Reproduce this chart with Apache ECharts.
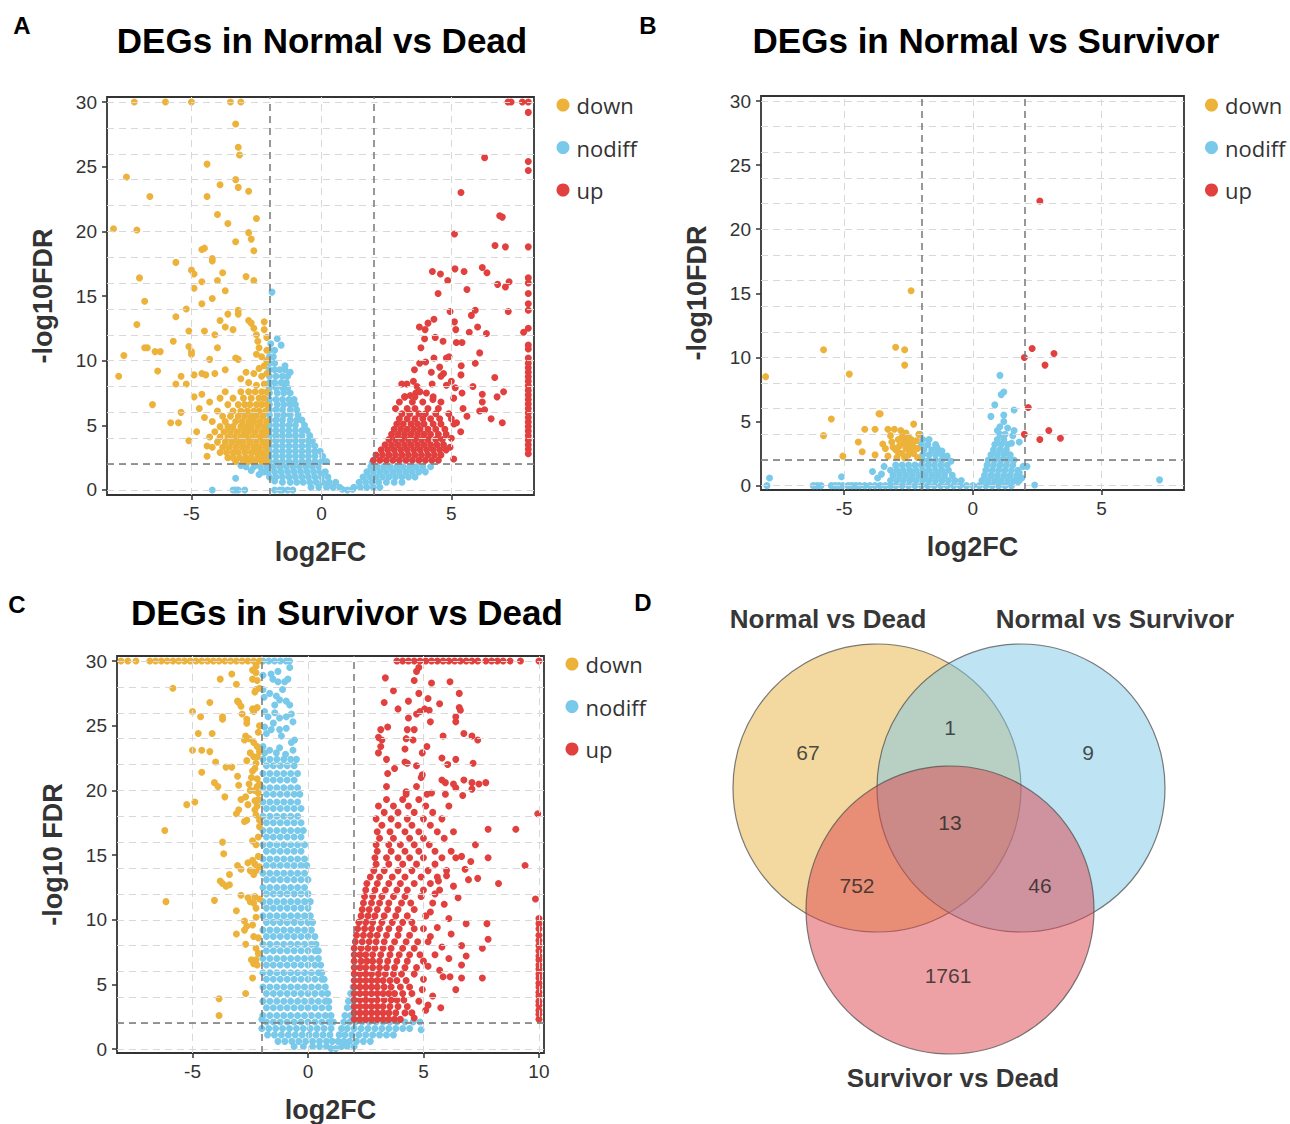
<!DOCTYPE html>
<html>
<head>
<meta charset="utf-8">
<title>DEGs volcano plots and Venn</title>
<script src="https://cdn.jsdelivr.net/npm/echarts@6/dist/echarts.min.js"></script>
<style>
  html, body { margin: 0; padding: 0; background: #fff; }
  #chart { width: 1290px; height: 1124px; }
</style>
</head>
<body>
<div id="chart"></div>
<script>
// ---- data ----
const yTicks = [0, 5, 10, 15, 20, 25, 30];
const xTicksAB = [-5, 0, 5];
const xTicksC = [-5, 0, 5, 10];
const gridYs = [0, 2, 4, 6, 8, 10, 12, 14, 16, 18, 20, 22, 24, 26, 28, 30];
const fcCut = [-2, 2];
const fdrCut = 2;

// A: Normal vs Dead
const aDown = [[-7.2,30],[-6,30],[-5,30],[-3.5,30],[-3.1,30],[-3.3,28.3],[-3.2,26.5],[-3.15,25.9],[-4.4,25.2],[-7.5,24.2],[-3.3,24],[-3.2,23.4],[-3.9,23.6],[-2.8,23.1],[-6.6,22.7],[-4.4,22.7],[-8,20.2],[-7.1,20.1],[-2.5,21],[-4,21.3],[-3.6,20.6],[-2.8,19.9],[-2.7,19.4],[-3.3,19.2],[-2.6,18.5],[-4.6,18.6],[-4.5,18.7],[-4.2,17.9],[-4.2,17.7],[-5.6,17.6],[-5,17],[-4.9,16.7],[-3.8,16.8],[-4,16.2],[-4.6,16.1],[-2.9,16.5],[-2.6,16.2],[-7,16.4],[-4.9,15.6],[-3.7,15.4],[-4.2,14.8],[-6.8,14.6],[-4.6,14.4],[-5.2,14],[-5.6,13.4],[-3.6,13.6],[-3.2,13.9],[-3.2,13.6],[-7.1,12.8],[-3.9,13.1],[-2.8,13.1],[-2.2,13],[-5.1,12.3],[-3.7,12.6],[-3.4,12.4],[-4.1,12],[-4.5,12.3],[-7.6,10.4],[-6.8,11],[-6.7,11],[-6.4,10.7],[-6.2,10.7],[-5.7,11.5],[-5.1,11.1],[-5,10.7],[-5,10.5],[-4.3,10.1],[-3.3,10.2],[-3.2,10.1],[-4,11],[-7.8,8.8],[-6.3,9.2],[-5.4,8.8],[-5.6,8.2],[-5.2,8.2],[-4.9,8.9],[-4.6,9],[-4.45,8.9],[-4.1,9],[-3.7,9.3],[-6.5,6.6],[-5.4,6],[-5.8,5.2],[-5.5,5.2],[-5.1,3.8],[-4.4,2.6],[-4.4,3.4],
  [-2.7,12.9],[-2.6,12.5],[-2.5,12],[-2.45,11.5],[-2.4,11],[-2.5,10.5],[-2.3,10.3],[-2.1,10.8],[-2.1,10],[-2.2,9.6],[-2.4,9.4],[-2.1,9],[-2.3,8.8],[-2.6,9],[-2.9,9.1],[-3.1,8.6],[-2.8,8.3],[-2.5,8.1],[-2.2,8.2],[-2.1,11.8],[-2.2,12.4],[-4.7,6.3],[-4.5,5.6],[-4.8,4.5],[-4.6,7.4],[-4.3,6.8],[-4.9,7.2],
  [-3.3,2.2],[-3,2.2],[-2.8,2.2],[-2.55,2.2],[-2.3,2.2],[-2.1,2.2],
  [-3.6,2.5],[-3.4,2.5],[-3.15,2.5],[-2.9,2.5],[-2.7,2.5],[-2.45,2.5],[-2.2,2.5],
  [-3.9,2.9],[-3.65,2.9],[-3.4,2.9],[-3.2,2.9],[-2.95,2.9],[-2.7,2.9],[-2.5,2.9],[-2.3,2.9],[-2.1,2.9],
  [-4.2,3.3],[-3.8,3.3],[-3.55,3.3],[-3.3,3.3],[-3.05,3.3],[-2.85,3.3],[-2.6,3.3],[-2.4,3.3],[-2.15,3.3],
  [-4,3.7],[-3.7,3.7],[-3.45,3.7],[-3.2,3.7],[-3,3.7],[-2.75,3.7],[-2.5,3.7],[-2.25,3.7],[-2.05,3.7],
  [-4.3,4.1],[-3.9,4.1],[-3.6,4.1],[-3.35,4.1],[-3.1,4.1],[-2.9,4.1],[-2.65,4.1],[-2.4,4.1],[-2.2,4.1],
  [-4.1,4.5],[-3.75,4.5],[-3.5,4.5],[-3.25,4.5],[-3,4.5],[-2.8,4.5],[-2.55,4.5],[-2.3,4.5],[-2.1,4.5],
  [-3.9,4.9],[-3.6,4.9],[-3.4,4.9],[-3.1,4.9],[-2.9,4.9],[-2.7,4.9],[-2.45,4.9],[-2.2,4.9],
  [-4.2,5.3],[-3.7,5.3],[-3.3,5.3],[-3.05,5.3],[-2.8,5.3],[-2.6,5.3],[-2.35,5.3],[-2.1,5.3],
  [-3.8,5.7],[-3.5,5.7],[-3.2,5.7],[-2.95,5.7],[-2.7,5.7],[-2.5,5.7],[-2.25,5.7],
  [-4,6.1],[-3.4,6.1],[-3.1,6.1],[-2.85,6.1],[-2.6,6.1],[-2.4,6.1],[-2.15,6.1],
  [-3.6,6.6],[-3.2,6.6],[-2.95,6.6],[-2.75,6.6],[-2.5,6.6],[-2.3,6.6],[-2.1,6.6],
  [-3.9,7.1],[-3.4,7.1],[-3,7.1],[-2.7,7.1],[-2.4,7.1],[-2.2,7.1],
  [-3.7,7.6],[-3.1,7.6],[-2.8,7.6],[-2.55,7.6],[-2.3,7.6],[-2.1,7.6]];

const aNodiff = [[0.8,0.05],[1,0],[1.2,0.05],
  [-0.4,0.2],[-0.1,0.2],[0.2,0.2],[0.45,0.2],[0.7,0.2],[1.25,0.2],[1.5,0.2],[1.75,0.2],[2,0.2],[2.25,0.2],
  [-1.2,0.6],[-0.95,0.6],[-0.7,0.6],[-0.45,0.6],[-0.2,0.6],[0.05,0.6],[0.3,0.6],[0.55,0.6],[1.45,0.6],[1.7,0.6],[1.95,0.6],[2.2,0.6],[2.5,0.6],[2.8,0.6],[3.1,0.6],
  [-2,1],[-1.75,1],[-1.5,1],[-1.25,1],[-1,1],[-0.75,1],[-0.5,1],[-0.25,1],[0,1],[0.25,1],[1.6,1],[1.85,1],[2.1,1],[2.35,1],[2.6,1],[2.85,1],[3.1,1],[3.35,1],[3.6,1],
  [-2.3,1.4],[-2.05,1.4],[-1.8,1.4],[-1.55,1.4],[-1.3,1.4],[-1.05,1.4],[-0.8,1.4],[-0.55,1.4],[-0.3,1.4],[-0.05,1.4],[0.15,1.4],[1.75,1.4],[2,1.4],[2.25,1.4],[2.5,1.4],[2.75,1.4],[3,1.4],[3.25,1.4],[3.5,1.4],[3.75,1.4],[4,1.4],
  [-2.9,1.8],[-2.6,1.8],[-2.35,1.8],[-2.1,1.8],[-1.85,1.8],[-1.6,1.8],[-1.35,1.8],[-1.1,1.8],[-0.85,1.8],[-0.6,1.8],[-0.35,1.8],[-0.1,1.8],[1.9,1.8],[2.15,1.8],[2.4,1.8],[2.65,1.8],[2.9,1.8],[3.15,1.8],[3.4,1.8],[3.65,1.8],[3.9,1.8],[4.2,1.8],
  [-2,2.2],[-1.75,2.2],[-1.5,2.2],[-1.25,2.2],[-1,2.2],[-0.75,2.2],[-0.5,2.2],[-0.25,2.2],[0,2.2],[0.2,2.2],[1.95,2.1],
  [-2,2.6],[-1.75,2.6],[-1.5,2.6],[-1.25,2.6],[-1,2.6],[-0.75,2.6],[-0.5,2.6],[-0.25,2.6],[0.05,2.6],
  [-2,3],[-1.75,3],[-1.5,3],[-1.25,3],[-1,3],[-0.75,3],[-0.5,3],[-0.25,3],[-0.05,3],
  [-2,3.4],[-1.75,3.4],[-1.5,3.4],[-1.25,3.4],[-1,3.4],[-0.75,3.4],[-0.5,3.4],[-0.25,3.4],
  [-2,3.8],[-1.75,3.8],[-1.5,3.8],[-1.25,3.8],[-1,3.8],[-0.75,3.8],[-0.5,3.8],[-0.35,3.8],
  [-2,4.2],[-1.75,4.2],[-1.5,4.2],[-1.25,4.2],[-1,4.2],[-0.75,4.2],[-0.45,4.2],
  [-2,4.6],[-1.75,4.6],[-1.5,4.6],[-1.25,4.6],[-1,4.6],[-0.75,4.6],[-0.55,4.6],
  [-2,5],[-1.75,5],[-1.5,5],[-1.25,5],[-1,5],[-0.65,5],
  [-2,5.4],[-1.75,5.4],[-1.5,5.4],[-1.2,5.4],[-0.95,5.4],[-0.75,5.4],
  [-2,5.8],[-1.7,5.8],[-1.45,5.8],[-1.2,5.8],[-0.9,5.8],
  [-2,6.2],[-1.75,6.2],[-1.5,6.2],[-1.2,6.2],[-0.95,6.2],
  [-2,6.6],[-1.7,6.6],[-1.45,6.6],[-1.2,6.6],[-1,6.6],
  [-2,7],[-1.75,7],[-1.5,7],[-1.25,7],[-1.05,7],
  [-2,7.5],[-1.7,7.5],[-1.45,7.5],[-1.2,7.5],
  [-2,7.9],[-1.75,7.9],[-1.5,7.9],[-1.3,7.9],
  [-2,8.3],[-1.8,8.3],[-1.55,8.3],[-1.35,8.3],
  [-2,8.8],[-1.75,8.8],[-1.5,8.8],[-1.3,8.8],
  [-2,9.3],[-1.8,9.3],[-1.6,9.3],[-1.4,9.3],
  [-2,9.8],[-1.8,9.8],[-2,10.3],[-1.85,10.3],[-2,10.8],[-1.8,10.8],[-1.95,11.3],
  [-1.7,11.7],[-1.9,15.3],[-1.55,11.2],[-1.2,9.1],[-1.4,9.6],
  [-4.2,0],[-3.4,0],[-3.3,0],[-3.2,0],[-2.95,0],[-3.3,0.9],[-1.8,0],[-1.6,0],[-1.5,0],[-1.3,0],[-1.1,0],[-3.1,1.9],[-2.7,1.5],[-2.4,1.2],[-2.2,1.4],[-1.8,0.7],[-1.5,0.6]];

const aUp = [[7.18,30],[7.3,30],[7.73,30],[7.96,30],[7.96,29.2],[6.28,25.7],[7.96,25.4],[7.96,24.7],[5.37,23],[6.86,21.2],[6.96,21.1],[5.12,19.8],[6.68,18.9],[7.08,18.8],[7.96,18.8],[4.27,16.9],[4.58,16.7],[5.14,17.1],[5.49,16.9],[4.86,16.2],[6.19,17.2],[6.37,16.8],[6.78,15.9],[7.08,15.7],[7.22,16.1],[7.96,16.4],[7.96,16],[7.96,15.2],[7.96,14.4],[5.6,15.5],[4.49,15.2],[4.95,13.8],[5.92,13.9],[5.77,13.5],[7.19,13.8],[7.96,13.9],[4.33,13.2],[3.77,12.6],[3.99,12.4],[4.1,12.9],[5.12,13],[5.17,12.4],[5.69,12.2],[6.01,12.6],[6.35,12.1],[7.78,12.2],[7.96,12.5],[4.38,11.8],[3.97,11.7],[4.68,11.5],[5.19,11.4],[5.41,11.4],[3.83,11],[4.33,10.2],[4.81,10.2],[4.91,10.3],[6.09,10.6],[3.58,9.3],[3.78,9.8],[4.01,9.9],[4.23,9.1],[4.55,9.5],[4.7,9],[5.38,9.6],[5.37,8.9],[5.92,9.8],[6.67,8.7],[3.09,8.2],[3.29,8.2],[3.54,8.4],[3.68,8],[3.79,7.6],[3.21,7.2],[3.42,7.3],[3.63,7.5],[4.04,7.5],[4.26,8.2],[4.29,7],[4.6,8.8],[4.81,8.1],[5,8.4],[5.15,7.9],[5.09,7.1],[5.41,7.5],[5.45,6.3],[5.83,8],[6.19,7.4],[6.19,6.8],[6.09,6.1],[6.28,6.2],[7.01,7.6],[6.76,7.2],[6.53,5.5],[6.96,5.2],[5.6,5.7],[5.36,4.5],[5.09,2.4],[5.2,5.2],[5,4],[4.95,3.3],
  [7.96,2.8],[7.96,3.15],[7.96,3.5],[7.96,3.85],[7.96,4.2],[7.96,4.55],[7.96,4.9],[7.96,5.25],[7.96,5.6],[7.96,5.95],[7.96,6.3],[7.96,6.65],[7.96,7],[7.96,7.35],[7.96,7.7],[7.96,8.05],[7.96,8.4],[7.96,8.75],[7.96,9.1],[7.96,9.45],[7.96,9.8],[7.96,10.2],[7.96,10.9],[7.96,11.2],
  [2,2.3],[2.25,2.3],[2.5,2.3],[2.75,2.3],[3,2.3],[3.25,2.3],[3.5,2.3],[3.75,2.3],[4,2.3],[4.25,2.3],[4.5,2.3],
  [2.1,2.7],[2.35,2.7],[2.6,2.7],[2.85,2.7],[3.1,2.7],[3.35,2.7],[3.6,2.7],[3.85,2.7],[4.1,2.7],[4.35,2.7],[4.6,2.7],
  [2.3,3.1],[2.55,3.1],[2.8,3.1],[3.05,3.1],[3.3,3.1],[3.55,3.1],[3.8,3.1],[4.05,3.1],[4.3,3.1],[4.55,3.1],[4.8,3.1],
  [2.45,3.5],[2.7,3.5],[2.95,3.5],[3.2,3.5],[3.45,3.5],[3.7,3.5],[3.95,3.5],[4.2,3.5],[4.45,3.5],[4.7,3.5],
  [2.6,3.9],[2.85,3.9],[3.1,3.9],[3.35,3.9],[3.6,3.9],[3.85,3.9],[4.1,3.9],[4.4,3.9],[4.65,3.9],
  [2.7,4.3],[2.95,4.3],[3.2,4.3],[3.45,4.3],[3.7,4.3],[3.95,4.3],[4.2,4.3],[4.5,4.3],[4.8,4.3],
  [2.8,4.7],[3.05,4.7],[3.3,4.7],[3.55,4.7],[3.8,4.7],[4.1,4.7],[4.4,4.7],[4.75,4.7],
  [2.9,5.1],[3.15,5.1],[3.45,5.1],[3.7,5.1],[3.95,5.1],[4.3,5.1],[4.6,5.1],[5.1,5.1],
  [3,5.5],[3.3,5.5],[3.6,5.5],[3.9,5.5],[4.2,5.5],[4.55,5.5],[5,5.5],
  [3.1,5.9],[3.4,5.9],[3.75,5.9],[4,5.9],[4.4,5.9],[4.9,5.9],
  [2.85,6.3],[3.3,6.3],[3.6,6.3],[4.1,6.3],[4.5,6.3],
  [3,6.8],[3.5,6.8],[3.9,6.8],[4.6,6.8],[3.2,7.2],[3.6,7.2],[4.3,7.2]];

// B: Normal vs Survivor
const bDown = [[-8.05,8.5],[-5.8,10.6],[-5.8,3.9],[-5.5,5.2],[-4.8,8.7],[-5.05,2.3],[-4.45,3.4],[-4.3,2.65],[-4.2,4.4],[-3.8,4.4],[-3.65,5.6],[-3.6,5.6],[-3.8,2.4],[-3.5,3.25],[-3.4,2.9],[-3.3,4.4],[-3.05,4.4],[-3.2,3.9],[-3.1,3],[-3,10.8],[-2.65,10.6],[-2.65,9.4],[-2.4,15.2],[-2.3,4.8],[-2.1,4],
  [-2.9,3.6],[-2.75,3.8],[-2.6,3.7],[-2.5,3.8],[-2.4,3.6],[-2.7,3.3],[-2.55,3.4],[-2.45,3.2],[-2.35,3.4],[-2.2,3.5],[-2.85,3.1],[-2.6,2.9],[-2.45,2.8],[-2.3,3],[-2.15,2.9],[-2.9,2.6],[-2.75,2.5],[-2.5,2.4],[-2.3,2.5],[-2.15,2.2],[-3.3,2.3],[-2.95,2.2],[-2.65,2.15],[-2.6,4.1],[-2.8,4.3],[-3.15,3.4],[-3,2.8]];

const bNodiff = [[-8,0],[-6.2,0],[-6.05,0],[-5.9,0],[-5.5,0],[-5.35,0],[-5.2,0],[-5.05,0],[-4.85,0],[-4.7,0],[-4.55,0],[-4.4,0],[-4.2,0],[-4,0],[-3.8,0],[-3.6,0],[-3.4,0],[-3.2,0],
  [-3,0],[-2.75,0],[-2.5,0],[-2.25,0],[-2,0],[-1.75,0],[-1.5,0],[-1.25,0],[-1,0],[-0.75,0],[-0.5,0],[-0.25,0],[0,0],[0.25,0],[0.5,0],[0.75,0],[1,0],[1.25,0],[1.5,0],
  [-3.2,0.4],[-2.95,0.4],[-2.7,0.4],[-2.45,0.4],[-2.2,0.4],[-1.95,0.4],[-1.7,0.4],[-1.45,0.4],[-1.2,0.4],[-0.95,0.4],[-0.7,0.4],[-0.45,0.4],[0.35,0.4],[0.6,0.4],[0.85,0.4],[1.1,0.4],[1.35,0.4],[1.6,0.4],[1.8,0.4],
  [-3.1,0.8],[-2.85,0.8],[-2.6,0.8],[-2.35,0.8],[-2.1,0.8],[-1.85,0.8],[-1.6,0.8],[-1.35,0.8],[-1.1,0.8],[-0.8,0.8],[0.45,0.8],[0.7,0.8],[0.95,0.8],[1.2,0.8],[1.45,0.8],[1.7,0.8],
  [-3.2,1.2],[-2.95,1.2],[-2.7,1.2],[-2.45,1.2],[-2.2,1.2],[-1.95,1.2],[-1.7,1.2],[-1.45,1.2],[-1.2,1.2],[-0.95,1.2],[0.5,1.2],[0.75,1.2],[1,1.2],[1.25,1.2],[1.5,1.2],[1.75,1.2],
  [-3,1.6],[-2.75,1.6],[-2.5,1.6],[-2.25,1.6],[-2,1.6],[-1.75,1.6],[-1.5,1.6],[-1.25,1.6],[-1,1.6],[0.55,1.6],[0.8,1.6],[1.05,1.6],[1.3,1.6],[1.55,1.6],
  [-1.95,2],[-1.7,2],[-1.45,2],[-1.2,2],[0.6,2],[0.85,2],[1.1,2],[1.35,2],[1.6,2],
  [-1.95,2.4],[-1.7,2.4],[-1.45,2.4],[-1.2,2.4],[0.7,2.4],[0.95,2.4],[1.2,2.4],[1.45,2.4],
  [-1.9,2.8],[-1.6,2.8],[-1.35,2.8],[0.8,2.8],[1.05,2.8],[1.3,2.8],
  [-2,3.2],[-1.75,3.2],[-1.45,3.2],[0.85,3.2],[1.1,3.2],[1.35,3.2],
  [-1.95,3.6],[-1.7,3.6],[0.95,3.6],[1.2,3.6],[-2.05,4],[1.05,4],[1.25,4],
  [1.05,8.6],[1.1,7.1],[1.2,7.3],[0.85,6.3],[0.7,5.4],[1.2,5.5],[1.2,5],[1.6,5.9],[1.05,4.6],[0.95,4.3],[1.6,4.3],[1.5,3.3],[1.8,3.4],[1.95,1.5],[2.1,1.5],[1.75,0.3],[2.4,0.05],[7.25,0.45],[1.35,4.5],[1.55,3.9],[1.8,1],[1.9,0.6],
  [-3.9,1.1],[-3.7,0.6],[-3.55,0.9],[-5.1,0.7],[-7.9,0.6],[-3.45,1.5],[-1.4,3],[-1.2,2.7],[-1,2.3],[-0.85,1.9]];

const bUp = [[2.6,22.2],[2.3,10.7],[2,10],[3.15,10.3],[2.8,9.4],[2.15,6.1],[2,4],[2.6,3.6],[2.95,4.3],[3.4,3.7]];

// C: Survivor vs Dead
const cDown = [[-8.1,30],[-7.8,30],[-7.45,30],[-6.85,30],[-6.6,30],[-6.35,30],[-6.1,30],[-5.85,30],[-5.6,30],[-5.35,30],[-5.1,30],[-4.85,30],[-4.6,30],[-4.35,30],[-4.1,30],[-3.85,30],[-3.6,30],[-3.35,30],[-3.1,30],[-2.85,30],[-2.6,30],[-2.35,30],[-2.1,30],
  [-3.3,29],[-3.8,28.6],[-5.85,27.9],[-3.1,28.2],[-4.25,26.8],[-3.05,26.9],[-3,26.8],[-5,26.1],[-4.65,25.7],[-3.7,25.7],[-3.7,25.5],[-2.9,26.5],[-2.85,25.9],[-2.25,27.8],[-2.3,27.6],[-2.4,26.3],[-2.25,29.1],[-2.25,29.6],[-2.4,28.6],[-2.65,25.5],[-2.65,25.2],[-2.7,24.2],[-2.55,24],[-2.75,23.9],[-4.75,24.4],[-4.15,24.4],[-5,23.1],[-4.6,23.1],[-4.25,23],[-4,22.2],[-3.55,21.8],[-3.3,21.8],[-4.6,21.4],[-4.05,20.6],[-3.9,20.3],[-3.6,19.5],[-4.9,19.1],[-5.25,18.9],[-3.05,21.1],[-3,20.4],[-2.9,19.3],[-3,18.5],[-3.1,18.2],
  [-2.7,19.5],[-2.6,18.9],[-2.55,20.5],[-2.45,21],[-2.4,21.5],[-2.3,21.7],[-2.25,22.1],[-2.35,22.6],[-2.2,20.3],[-2.15,19.8],[-2.5,20],[-2.3,19.2],[-2.65,22.3],[-2.5,22.9],[-2.2,23.4],[-2.35,23.7],
  [-2.65,17.7],[-2.75,17.6],[-2.3,18.5],[-2.25,18.1],[-2.1,17.7],[-2.1,17.2],[-2.15,16.4],[-6.2,16.9],[-3.7,16],[-3.65,15.1],[-2.4,16.1],[-2.25,15.8],
  [-3.05,14.2],[-2.9,13.9],[-2.6,14.4],[-2.5,13.8],[-2.4,14.6],[-2.3,14.3],[-2.25,13.8],[-2.35,13.5],[-2.1,14.1],[-2.15,14.9],
  [-3.4,13.5],[-3.8,13],[-3.55,12.6],[-3.7,12.8],[-3.4,12.7],[-4.05,11.5],[-6.15,11.4],
  [-2.9,11.9],[-2.6,11.7],[-2.5,11.4],[-2.3,11.8],[-2.35,11.3],[-2.25,10.9],[-2.1,11.6],
  [-3.1,10.7],[-2.75,9.9],[-2.65,9.5],[-2.25,10.2],[-2.4,9.6],[-3.1,8.9],[-2.75,9.2],[-2.35,8.7],[-2.15,8.6],[-2.7,8.1],[-2.25,7.8],[-2.15,7.4],[-2.45,6.9],[-2.25,6.9],[-2.35,6.6],[-2.2,6.5],[-2.4,5.5],[-2.7,4.3],[-3.85,3.9],[-3.85,2.6],
  [-2.1,25],[-2.15,24.5],[-2.1,23],[-2.2,22.6],[-2.2,20.9],[-2.1,20.5],[-2.3,20],[-2.15,19.3],[-2.2,18.8],[-2.35,26.1],[-2.2,26.4],[-2.1,27.9],[-2.4,29.3],[-2.2,28.5]];

const cNodiff = [[-1.95,30],[-1.7,30],[-1.45,30],[-1.2,30],[-0.95,30],[-0.8,30],
  [-1.3,29.2],[-0.79,29.5],[-0.87,28.6],[-1.52,28.6],[-1.3,28.4],[-1.01,28.4],[-1.95,27.8],[-1.66,27.5],[-1.37,27.3],[-1.23,27],[-1.44,26.6],[-0.94,26.9],[-0.79,26.6],[-1.88,26.1],[-1.73,25.7],[-1.44,26],[-1.23,25.6],[-0.94,25.7],[-0.72,25.9],[-0.65,25.3],[-1.88,24.9],[-1.8,24.4],[-1.59,24.7],[-1.23,24.7],[-1.15,24.2],[-0.94,24.8],[-0.72,23.7],[-0.58,23.9],[-0.65,23.1],[-1.95,23.4],[-1.88,22.9],[-1.66,23.1],[-1.37,22.9],[-1.23,23.3],[-0.97,22.8],[-1.95,28.9],[-1.9,27.2],[-1.6,29],[-1.1,27.8],[-1.5,25.2],
  [-1.95,22.4],[-1.65,22.4],[-1.35,22.4],[-1.05,22.4],[-0.75,22.4],[-0.5,22.4],
  [-1.8,21.9],[-1.5,21.9],[-1.2,21.9],[-0.9,21.9],[-0.6,21.9],
  [-1.95,21.3],[-1.65,21.3],[-1.35,21.3],[-1.05,21.3],[-0.75,21.3],[-0.45,21.3],
  [-1.8,20.8],[-1.5,20.8],[-1.2,20.8],[-0.9,20.8],[-0.6,20.8],
  [-1.95,20.2],[-1.65,20.2],[-1.35,20.2],[-1.05,20.2],[-0.75,20.2],[-0.45,20.2],
  [-1.8,19.7],[-1.5,19.7],[-1.2,19.7],[-0.9,19.7],[-0.6,19.7],[-0.35,19.7],
  [-1.95,19.1],[-1.65,19.1],[-1.35,19.1],[-1.05,19.1],[-0.75,19.1],[-0.45,19.1],
  [-1.8,18.6],[-1.5,18.6],[-1.2,18.6],[-0.9,18.6],[-0.6,18.6],[-0.3,18.6],
  [-1.95,18],[-1.65,18],[-1.35,18],[-1.05,18],[-0.75,18],[-0.45,18],
  [-1.8,17.5],[-1.5,17.5],[-1.2,17.5],[-0.9,17.5],[-0.6,17.5],[-0.3,17.5],
  [-1.95,16.9],[-1.65,16.9],[-1.35,16.9],[-1.05,16.9],[-0.75,16.9],[-0.45,16.9],[-0.2,16.9],
  [-1.8,16.4],[-1.5,16.4],[-1.2,16.4],[-0.9,16.4],[-0.6,16.4],[-0.3,16.4],
  [-1.95,15.8],[-1.65,15.8],[-1.35,15.8],[-1.05,15.8],[-0.75,15.8],[-0.45,15.8],[-0.15,15.8],
  [-1.8,15.3],[-1.5,15.3],[-1.2,15.3],[-0.9,15.3],[-0.6,15.3],[-0.3,15.3],
  [-1.95,14.7],[-1.65,14.7],[-1.35,14.7],[-1.05,14.7],[-0.75,14.7],[-0.45,14.7],[-0.15,14.7],
  [-1.8,14.2],[-1.5,14.2],[-1.2,14.2],[-0.9,14.2],[-0.6,14.2],[-0.3,14.2],[-0.05,14.2],
  [-1.95,13.6],[-1.65,13.6],[-1.35,13.6],[-1.05,13.6],[-0.75,13.6],[-0.45,13.6],[-0.15,13.6],
  [-1.8,13.1],[-1.5,13.1],[-1.2,13.1],[-0.9,13.1],[-0.6,13.1],[-0.3,13.1],[0,13.1],
  [-1.95,12.5],[-1.65,12.5],[-1.35,12.5],[-1.05,12.5],[-0.75,12.5],[-0.45,12.5],[-0.15,12.5],
  [-1.8,12],[-1.5,12],[-1.2,12],[-0.9,12],[-0.6,12],[-0.3,12],[0,12],
  [-1.95,11.4],[-1.65,11.4],[-1.35,11.4],[-1.05,11.4],[-0.75,11.4],[-0.45,11.4],[-0.15,11.4],[0.1,11.4],
  [-1.8,10.9],[-1.5,10.9],[-1.2,10.9],[-0.9,10.9],[-0.6,10.9],[-0.3,10.9],[0,10.9],
  [-1.95,10.3],[-1.65,10.3],[-1.35,10.3],[-1.05,10.3],[-0.75,10.3],[-0.45,10.3],[-0.15,10.3],[0.1,10.3],
  [-1.8,9.8],[-1.5,9.8],[-1.2,9.8],[-0.9,9.8],[-0.6,9.8],[-0.3,9.8],[0,9.8],[0.2,9.8],
  [-1.95,9.2],[-1.65,9.2],[-1.35,9.2],[-1.05,9.2],[-0.75,9.2],[-0.45,9.2],[-0.15,9.2],[0.15,9.2],
  [-1.8,8.7],[-1.5,8.7],[-1.2,8.7],[-0.9,8.7],[-0.6,8.7],[-0.3,8.7],[0,8.7],[0.3,8.7],
  [-1.95,8.1],[-1.65,8.1],[-1.35,8.1],[-1.05,8.1],[-0.75,8.1],[-0.45,8.1],[-0.15,8.1],[0.15,8.1],[0.35,8.1],
  [-1.8,7.6],[-1.5,7.6],[-1.2,7.6],[-0.9,7.6],[-0.6,7.6],[-0.3,7.6],[0,7.6],[0.3,7.6],[0.45,7.6],
  [-1.95,7],[-1.65,7],[-1.35,7],[-1.05,7],[-0.75,7],[-0.45,7],[-0.15,7],[0.15,7],[0.45,7],
  [-1.8,6.5],[-1.5,6.5],[-1.2,6.5],[-0.9,6.5],[-0.6,6.5],[-0.3,6.5],[0,6.5],[0.3,6.5],[0.55,6.5],
  [-1.95,5.9],[-1.65,5.9],[-1.35,5.9],[-1.05,5.9],[-0.75,5.9],[-0.45,5.9],[-0.15,5.9],[0.15,5.9],[0.45,5.9],[0.6,5.9],
  [-1.8,5.4],[-1.5,5.4],[-1.2,5.4],[-0.9,5.4],[-0.6,5.4],[-0.3,5.4],[0,5.4],[0.3,5.4],[0.6,5.4],[0.7,5.4],
  [-1.95,4.8],[-1.65,4.8],[-1.35,4.8],[-1.05,4.8],[-0.75,4.8],[-0.45,4.8],[-0.15,4.8],[0.15,4.8],[0.45,4.8],[0.75,4.8],[1.95,4.8],
  [-1.8,4.3],[-1.5,4.3],[-1.2,4.3],[-0.9,4.3],[-0.6,4.3],[-0.3,4.3],[0,4.3],[0.3,4.3],[0.6,4.3],[0.85,4.3],[1.85,4.3],
  [-1.95,3.7],[-1.65,3.7],[-1.35,3.7],[-1.05,3.7],[-0.75,3.7],[-0.45,3.7],[-0.15,3.7],[0.15,3.7],[0.45,3.7],[0.75,3.7],[0.9,3.7],[1.75,3.7],[1.95,3.7],
  [-1.8,3.2],[-1.5,3.2],[-1.2,3.2],[-0.9,3.2],[-0.6,3.2],[-0.3,3.2],[0,3.2],[0.3,3.2],[0.6,3.2],[0.9,3.2],[1.7,3.2],[1.95,3.2],
  [-1.95,2.6],[-1.65,2.6],[-1.35,2.6],[-1.05,2.6],[-0.75,2.6],[-0.45,2.6],[-0.15,2.6],[0.15,2.6],[0.45,2.6],[0.75,2.6],[1,2.6],[1.6,2.6],[1.85,2.6],
  [-1.8,2.1],[-1.5,2.1],[-1.2,2.1],[-0.9,2.1],[-0.6,2.1],[-0.3,2.1],[0,2.1],[0.3,2.1],[0.6,2.1],[0.9,2.1],[1.1,2.1],[1.55,2.1],[1.8,2.1],[2.05,2.1],[2.35,2.1],[2.65,2.1],[2.95,2.1],[3.25,2.1],[3.55,2.1],[3.85,2.1],[4.2,2.1],[4.55,2.1],[4.85,2.1],
  [-2,1.6],[-1.7,1.6],[-1.4,1.6],[-1.1,1.6],[-0.8,1.6],[-0.5,1.6],[-0.2,1.6],[0.1,1.6],[0.4,1.6],[0.7,1.6],[1,1.6],[1.45,1.6],[1.7,1.6],[2,1.6],[2.3,1.6],[2.6,1.6],[2.9,1.6],[3.2,1.6],[3.5,1.6],[3.8,1.6],[4.1,1.6],[4.4,1.6],[4.9,1.5],
  [-1.75,1.1],[-1.45,1.1],[-1.15,1.1],[-0.85,1.1],[-0.55,1.1],[-0.25,1.1],[0.05,1.1],[0.35,1.1],[0.65,1.1],[0.95,1.1],[1.35,1.1],[1.6,1.1],[1.9,1.1],[2.2,1.1],[2.5,1.1],[2.8,1.1],[3.1,1.1],[3.4,1.1],[3.7,1.1],
  [-1.3,0.6],[-1,0.6],[-0.7,0.6],[-0.4,0.6],[-0.1,0.6],[0.2,0.6],[0.5,0.6],[0.8,0.6],[1.05,0.6],[1.3,0.6],[1.55,0.6],[1.8,0.6],[2.1,0.6],[2.4,0.6],[2.7,0.6],
  [-0.6,0.2],[-0.2,0.2],[0.2,0.2],[0.5,0.2],[0.8,0.2],[1,0.05],[1.2,0.05],[1.45,0.2],[1.7,0.2],[2,0.2],[-2,2.3]];

const cUp = [[3.85,30],[4.1,30],[4.35,30],[4.6,30],[4.85,30],[5.1,30],[5.35,30],[5.6,30],[5.85,30],[6.1,30],[6.35,30],[6.6,30],[6.85,30],[7.1,30],[7.35,30],[7.7,30],[7.95,30],[8.2,30],[8.45,30],[8.75,30],[9.2,30],[10,30],
  [4.7,29.2],[4.8,29.5],[4.6,28.5],[3.35,28.7],[5.35,28.3],[6.15,28.4],[3.7,27.7],[4.8,27.5],[6.55,27.5],[3.3,26.8],[4.35,26.9],[5.2,27.1],[5.7,26.7],[3.9,26.3],[4.85,26.1],[5.05,26.3],[5.25,26.2],[6.55,26.4],[6.6,26.2],[4.35,25.6],[4.7,25.9],[5.3,25.3],[6.4,25.3],[6.4,25.7],[3.15,24.7],[3.45,24.9],[4.3,24.7],[4.6,24.7],[6.75,24.4],[7.1,24.2],[7.35,23.9],[3.05,24.1],[3.2,23.9],[4.25,24],[4.55,23.9],[5.85,24.2],[3.15,23.4],[4.2,23.2],[5.15,23.4],[3.05,22.9],[4.95,22.9],[3.4,22.4],[4.2,22.2],[4.3,22.1],[5.8,22.5],[6.4,22.4],[6.05,22],[7.15,22.1],[3.75,21.7],[4.7,21.9],[3.45,21.3],[4.95,21.2],[4.9,21],[5.8,20.8],[5.95,20.6],[6.3,20.5],[6.4,20.2],[6.75,20.8],[7.1,20.6],[7.4,20.5],[7.7,20.6],[3.4,20.3],[4.7,20.3],[5.15,19.7],[5.35,19.8],[4.25,19.9],[4.25,19.7],[5.95,19.7],[6.7,19.6],[7.1,20.1],
  [9.95,18.2],[9,17],[9.4,14.2],[8.25,12.8],[9.85,11.6],[7.8,17],[7.25,15.8],[7.8,14.8],[7.05,14.5],[6.8,13.9],[6.95,13.1],[7.35,13.2],[6.65,14.9],[6.4,14.8],[7.75,9.7],[7.8,8.5],[7.55,7.8],[6.85,9.7],[6.65,8],[6.85,7.2],[6.65,6.5],[6.65,5.5],[7.55,5.5],[5.85,5.6],[6.15,5.6],[6.4,4.6],[5.75,3.2],[5.1,3],[5.2,3.4],[4.6,2.4],
  [10,2.3],[10,2.7],[10,3],[10,3.4],[10,3.7],[10,4.1],[10,4.4],[10,4.8],[10,5.1],[10,5.5],[10,5.8],[10,6.2],[10,6.5],[10,6.9],[10,7.2],[10,7.6],[10,8],[10,8.4],[10,8.8],[10,9.3],[10,9.7],[10,10.1],
  [5.5,12],[5.9,11.2],[5.3,10.6],[6.1,10.1],[5.6,9.4],[5.3,8.7],[6.2,8.9],[5.8,7.9],[5.5,7.3],[6.1,7],[5.2,6.4],[5.7,6.1],[5,5.4],[4.95,4.6],[5.4,4.1],[4.8,3.7],[5.65,13],[6.3,12.6],[6,13.4],[6.5,11.7],
  [2,2.3],[2.25,2.3],[2.5,2.3],[2.75,2.3],[3,2.3],[3.25,2.3],[3.5,2.3],[3.75,2.3],[4,2.3],
  [2,2.8],[2.25,2.8],[2.5,2.8],[2.75,2.8],[3,2.8],[3.25,2.8],[3.5,2.8],[3.8,2.8],[4.2,2.8],[4.5,2.8],
  [2,3.3],[2.25,3.3],[2.5,3.3],[2.75,3.3],[3,3.3],[3.25,3.3],[3.55,3.3],[3.9,3.3],[4.3,3.3],
  [2,3.8],[2.25,3.8],[2.5,3.8],[2.75,3.8],[3,3.8],[3.3,3.8],[3.6,3.8],[3.85,3.8],[4.15,3.8],
  [2,4.3],[2.25,4.3],[2.5,4.3],[2.75,4.3],[3,4.3],[3.25,4.3],[3.5,4.3],[3.75,4.3],[4.1,4.3],[4.5,4.3],
  [2,4.8],[2.25,4.8],[2.5,4.8],[2.75,4.8],[3,4.8],[3.3,4.8],[3.6,4.8],[4,4.8],[4.4,4.8],
  [2,5.3],[2.25,5.3],[2.5,5.3],[2.75,5.3],[3,5.3],[3.25,5.3],[3.55,5.3],[3.85,5.3],[4.25,5.3],
  [2,5.8],[2.25,5.8],[2.5,5.8],[2.75,5.8],[3.05,5.8],[3.35,5.8],[3.7,5.8],[4.05,5.8],[4.6,5.8],
  [2,6.3],[2.25,6.3],[2.5,6.3],[2.8,6.3],[3.1,6.3],[3.4,6.3],[3.75,6.3],[4.2,6.3],[4.7,6.3],
  [2,6.8],[2.3,6.8],[2.55,6.8],[2.8,6.8],[3.1,6.8],[3.45,6.8],[3.85,6.8],[4.3,6.8],[5,6.8],
  [2,7.3],[2.25,7.3],[2.5,7.3],[2.8,7.3],[3.15,7.3],[3.55,7.3],[3.95,7.3],[4.4,7.3],[4.85,7.3],
  [2,7.8],[2.3,7.8],[2.6,7.8],[2.9,7.8],[3.25,7.8],[3.6,7.8],[4.1,7.8],[4.6,7.8],
  [2.05,8.3],[2.35,8.3],[2.65,8.3],[2.95,8.3],[3.3,8.3],[3.75,8.3],[4.25,8.3],[4.75,8.3],[5.2,8.3],
  [2.1,8.8],[2.4,8.8],[2.7,8.8],[3,8.8],[3.4,8.8],[3.9,8.8],[4.4,8.8],
  [2.15,9.3],[2.45,9.3],[2.75,9.3],[3.1,9.3],[3.5,9.3],[3.95,9.3],[4.6,9.3],[5,9.3],
  [2.2,9.8],[2.5,9.8],[2.8,9.8],[3.2,9.8],[3.65,9.8],[4.1,9.8],[4.5,9.8],
  [2.3,10.3],[2.6,10.3],[2.9,10.3],[3.3,10.3],[3.8,10.3],[4.3,10.3],[5.1,10.3],
  [2.35,10.8],[2.65,10.8],[3,10.8],[3.45,10.8],[3.9,10.8],[4.6,10.8],
  [2.4,11.3],[2.75,11.3],[3.1,11.3],[3.5,11.3],[4.05,11.3],[4.45,11.3],[5.4,11.3],
  [2.45,11.8],[2.8,11.8],[3.2,11.8],[3.7,11.8],[4.2,11.8],[4.9,11.8],
  [2.5,12.3],[2.9,12.3],[3.35,12.3],[3.85,12.3],[4.3,12.3],[5,12.3],[5.7,12.3],
  [2.55,12.8],[3,12.8],[3.5,12.8],[4,12.8],[4.6,12.8],[5.3,12.8],
  [2.7,13.3],[3.1,13.3],[3.65,13.3],[4.2,13.3],[4.9,13.3],[5.6,13.3],
  [2.85,13.8],[3.3,13.8],[3.9,13.8],[4.5,13.8],[5.2,13.8],[6,13.8],
  [2.95,14.3],[3.5,14.3],[4.1,14.3],[4.7,14.3],[5.5,14.3],
  [2.9,14.8],[3.4,14.8],[3.9,14.8],[4.4,14.8],[5,14.8],[5.8,14.8],
  [3,15.3],[3.6,15.3],[4.2,15.3],[4.8,15.3],[5.5,15.3],[6.2,15.3],
  [2.95,15.8],[3.5,15.8],[4,15.8],[4.6,15.8],[5.25,15.8],
  [3.1,16.3],[3.7,16.3],[4.4,16.3],[5,16.3],[5.9,16.3],
  [3,16.8],[3.55,16.8],[4.2,16.8],[4.8,16.8],[5.6,16.8],[6.3,16.8],
  [3.2,17.3],[3.9,17.3],[4.5,17.3],[5.3,17.3],
  [2.95,17.8],[3.6,17.8],[4.3,17.8],[5,17.8],[5.8,17.8],
  [3.3,18.3],[3.9,18.3],[4.6,18.3],[5.4,18.3],
  [3.05,18.8],[3.7,18.8],[4.35,18.8],[5.1,18.8],[6.1,18.8],
  [3.4,19.3],[4.1,19.3],[4.8,19.3]];

// D: Venn
const vennSetNames = ['Normal vs Dead', 'Normal vs Survivor', 'Survivor vs Dead'];
const vennRegionCounts = [67, 1, 9, 13, 752, 46, 1761];

// ---- layout / style ----
const vennCircleLayout = [[877, 788], [1021, 788], [950, 910]];
const vennRadius = 144;
const vennCountLayout = [[808, 752], [950, 727], [1088, 752], [950, 822], [857, 885], [1040, 885], [948, 975]];
const vennNameLayout = [[828, 619], [1115, 619], [953, 1078]];
const vennFills = ['rgba(231,179,65,0.5)', 'rgba(125,199,229,0.5)', 'rgba(221,67,75,0.5)'];

const COL = { down: '#ECB23A', nodiff: '#78C9EA', up: '#E1403F' };
const SANS = '"Liberation Sans", Arial, sans-serif';
const INK = '#333';

const panels = [
  { grid: { left: 107, top: 97, width: 427, height: 398 }, x: [-8.25, 8.18], y: [-0.39, 30.39], xt: xTicksAB, yName: '-log10FDR',
    down: aDown, nodiff: aNodiff, up: aUp, legend: { left: 551.5, top: 87 } },
  { grid: { left: 761, top: 96, width: 423, height: 394 }, x: [-8.23, 8.2], y: [-0.34, 30.39], xt: xTicksAB, yName: '-log10FDR',
    down: bDown, nodiff: bNodiff, up: bUp, legend: { left: 1200, top: 87 } },
  { grid: { left: 117, top: 656, width: 427, height: 397 }, x: [-8.27, 10.22], y: [-0.3, 30.39], xt: xTicksC, yName: '-log10 FDR',
    down: cDown, nodiff: cNodiff, up: cUp, legend: { left: 560.5, top: 646 } }
];

const grids = [], xAxes = [], yAxes = [], series = [], legends = [];

panels.forEach((p, i) => {
  grids.push(Object.assign({ show: true, borderColor: INK, borderWidth: 1.8, backgroundColor: 'transparent' }, p.grid));
  xAxes.push({
    type: 'value', gridIndex: i, min: p.x[0], max: p.x[1],
    name: 'log2FC', nameLocation: 'middle', nameGap: 43,
    nameTextStyle: { fontFamily: SANS, fontWeight: 'bold', fontSize: 27, color: INK },
    axisLine: { show: false, onZero: false },
    axisTick: { show: true, length: 5, customValues: p.xt, lineStyle: { color: INK, width: 1.5 } },
    axisLabel: { customValues: p.xt, margin: 9, fontSize: 19, color: INK, fontFamily: SANS },
    splitLine: { show: false }
  });
  yAxes.push({
    type: 'value', gridIndex: i, min: p.y[0], max: p.y[1],
    name: p.yName, nameLocation: 'middle', nameGap: 51, nameRotate: 90,
    nameTextStyle: { fontFamily: SANS, fontWeight: 'bold', fontSize: 27, color: INK },
    axisLine: { show: false, onZero: false },
    axisTick: { show: true, length: 5, customValues: yTicks, lineStyle: { color: INK, width: 1.5 } },
    axisLabel: { customValues: yTicks, margin: 10, fontSize: 19, color: INK, fontFamily: SANS },
    splitLine: { show: false }
  });
  // light dashed grid
  series.push({
    type: 'line', xAxisIndex: i, yAxisIndex: i, data: [], silent: true, z: 1,
    markLine: {
      silent: true, symbol: ['none', 'none'], label: { show: false }, animation: false,
      lineStyle: { type: [7, 5], color: '#d8d8d8', width: 1 },
      data: gridYs.map(v => ({ yAxis: v })).concat(p.xt.map(v => ({ xAxis: v })))
    }
  });
  ['nodiff', 'down', 'up'].forEach(k => {
    series.push({
      name: k, type: 'scatter', xAxisIndex: i, yAxisIndex: i, data: p[k],
      symbolSize: 7, itemStyle: { color: COL[k], opacity: 1 }, z: 2, animation: false
    });
  });
  // cut-off lines on top of points
  series.push({
    type: 'line', xAxisIndex: i, yAxisIndex: i, data: [], silent: true, z: 5,
    markLine: {
      silent: true, symbol: ['none', 'none'], label: { show: false }, animation: false,
      lineStyle: { type: [7, 5], color: '#777', width: 1.5 },
      data: fcCut.map(v => ({ xAxis: v })).concat([{ yAxis: fdrCut }])
    }
  });
  legends.push({
    data: ['down', 'nodiff', 'up'], orient: 'vertical', left: p.legend.left, top: p.legend.top,
    icon: 'circle', itemWidth: 13, itemHeight: 13, itemGap: 16.5,
    textStyle: { fontSize: 22, lineHeight: 26, color: INK, fontFamily: '"Open Sans", sans-serif', padding: [0, 0, 0, 2] }
  });
});

// Venn panel: pixel-like units, y inverted
grids.push({ left: 700, top: 590, width: 590, height: 510, show: false });
xAxes.push({ type: 'value', gridIndex: 3, min: 700, max: 1290, show: false });
yAxes.push({ type: 'value', gridIndex: 3, min: 590, max: 1100, inverse: true, show: false });

series.push({
  type: 'custom', xAxisIndex: 3, yAxisIndex: 3, silent: true, z: 2, animation: false,
  data: vennCircleLayout.map((c, i) => [c[0], c[1], vennRadius, i]),
  renderItem: (params, api) => {
    const c = api.coord([api.value(0), api.value(1)]);
    const r = api.size([api.value(2), 0])[0];
    return {
      type: 'circle', shape: { cx: c[0], cy: c[1], r: r },
      style: { fill: vennFills[api.value(3)], stroke: 'rgba(80,80,80,0.75)', lineWidth: 1.2 }
    };
  }
});
series.push({
  type: 'scatter', xAxisIndex: 3, yAxisIndex: 3, silent: true, z: 4, animation: false,
  symbolSize: 1, itemStyle: { color: 'transparent' },
  data: vennCountLayout.map((c, i) => [c[0], c[1], vennRegionCounts[i]]),
  label: { show: true, position: 'inside', formatter: p => p.value[2], fontSize: 21, color: '#222', fontFamily: SANS }
});
series.push({
  type: 'scatter', xAxisIndex: 3, yAxisIndex: 3, silent: true, z: 4, animation: false,
  symbolSize: 1, itemStyle: { color: 'transparent' },
  data: vennNameLayout.map((c, i) => [c[0], c[1], vennSetNames[i]]),
  label: { show: true, position: 'inside', formatter: p => p.value[2], fontSize: 26, fontWeight: 'bold', color: '#000', fontFamily: SANS }
});

function txt(x, y, text, size) {
  return {
    type: 'text', x: x, y: y, silent: true,
    style: { text: text, font: 'bold ' + size + 'px ' + SANS, fill: '#000', textAlign: 'center', textVerticalAlign: 'middle' }
  };
}

const chart = echarts.init(document.getElementById('chart'), null, { renderer: 'svg' });
chart.setOption({
  animation: false,
  backgroundColor: '#fff',
  grid: grids,
  xAxis: xAxes,
  yAxis: yAxes,
  legend: legends,
  series: series,
  graphic: [
    txt(22, 25, 'A', 24), txt(648, 25, 'B', 24), txt(17, 604, 'C', 24), txt(643, 602, 'D', 24),
    txt(322, 40, 'DEGs in Normal vs Dead', 35),
    txt(986, 40, 'DEGs in Normal vs Survivor', 35),
    txt(347, 612, 'DEGs in Survivor vs Dead', 35)
  ]
});
</script>
</body>
</html>
